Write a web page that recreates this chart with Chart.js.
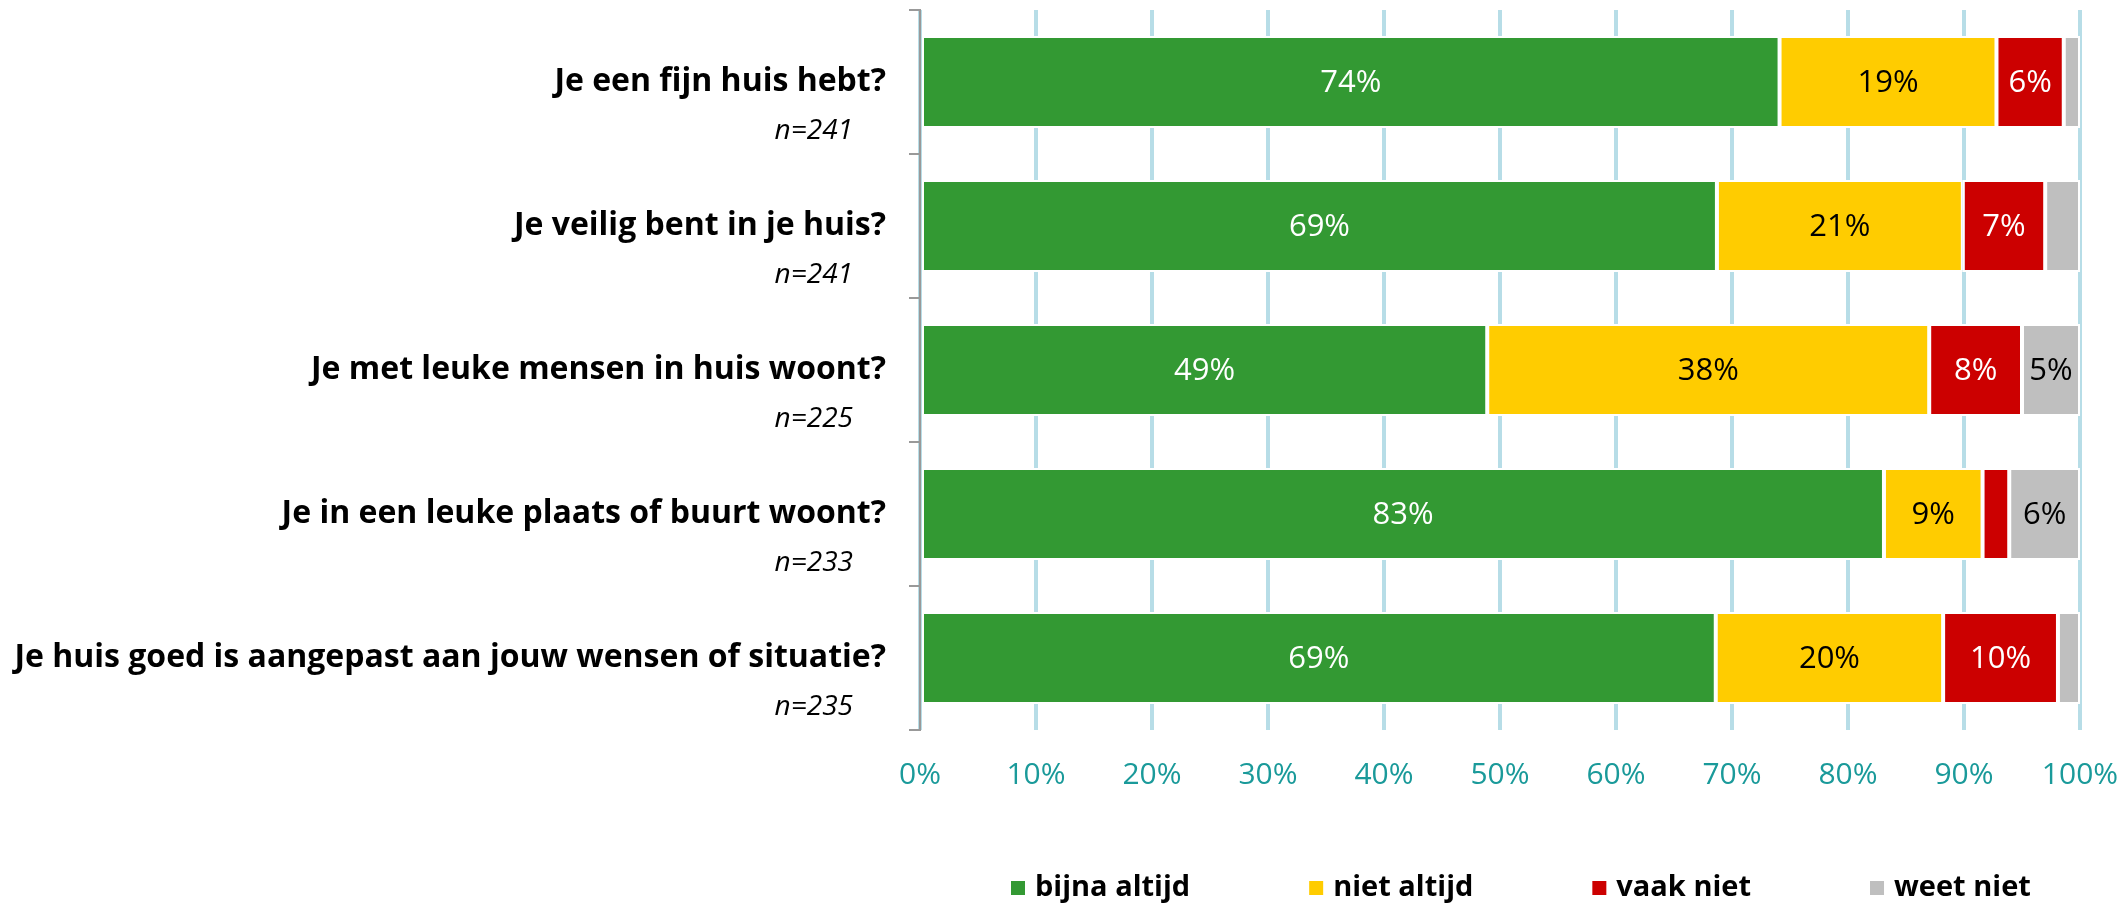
<!DOCTYPE html>
<html>
<head>
<meta charset="utf-8">
<script src="https://cdn.jsdelivr.net/npm/chart.js@4"></script>
<style>
  html, body { margin: 0; padding: 0; background: #fff; }
  #wrap { width: 2127px; height: 907px; }
</style>
</head>
<body>
<div id="wrap"><canvas id="chart" width="2127" height="907"></canvas></div>
<script>
const questions = [
    'Je een fijn huis hebt?',
    'Je veilig bent in je huis?',
    'Je met leuke mensen in huis woont?',
    'Je in een leuke plaats of buurt woont?',
    'Je huis goed is aangepast aan jouw wensen of situatie?'
];
const sampleSizes = ['n=241', 'n=241', 'n=225', 'n=233', 'n=235'];

const bijnaAltijd = [74.1, 68.7, 48.9, 83.1, 68.6];
const nietAltijd = [18.7, 21.2, 38.1, 8.5, 19.6];
const vaakNiet = [5.8, 7.1, 8.0, 2.3, 9.9];
const weetNiet = [1.4, 3.0, 5.0, 6.1, 1.9];

const xTickLabels = ['0%', '10%', '20%', '30%', '40%', '50%', '60%', '70%', '80%', '90%', '100%'];

const FONT = "'Open Sans', 'Noto Sans', sans-serif";

// question labels + n= under them, drawn next to the y axis
const questionLabels = {
    id: 'questionLabels',
    afterDraw(c) {
        const ctx = c.ctx;
        const y = c.scales.y;
        ctx.save();
        ctx.textAlign = 'right';
        ctx.textBaseline = 'middle';
        ctx.fillStyle = '#000';
        questions.forEach((q, i) => {
            const py = y.getPixelForValue(i);
            ctx.font = 'bold 32px ' + FONT;
            ctx.fillText(q, 886, py);
            ctx.font = 'italic 28px ' + FONT;
            ctx.fillText(sampleSizes[i], 853, py + 49);
        });
        ctx.restore();
    }
};

// percentages inside the bars
const barValues = {
    id: 'barValues',
    afterDatasetsDraw(c) {
        const ctx = c.ctx;
        ctx.save();
        ctx.font = '31px ' + FONT;
        ctx.textAlign = 'center';
        ctx.textBaseline = 'middle';
        c.data.datasets.forEach((ds, di) => {
            c.getDatasetMeta(di).data.forEach((bar, i) => {
                const v = ds.data[i];
                if (v < 4) return;
                ctx.fillStyle = ds.textColor;
                ctx.fillText(Math.round(v) + '%', (bar.x + bar.base) / 2, bar.y + 1);
            });
        });
        ctx.restore();
    }
};

// legend at the bottom
const bottomLegend = {
    id: 'bottomLegend',
    afterDraw(c) {
        const ctx = c.ctx;
        const dsets = c.data.datasets;
        ctx.save();
        ctx.font = 'bold 29px ' + FONT;
        const box = 14, gapText = 10, gapItem = 119;
        let x = c.chartArea.left + 91;
        const yBase = 896;
        dsets.forEach(d => {
            ctx.fillStyle = d.backgroundColor;
            ctx.fillRect(x, yBase - 15, box, box);
            ctx.fillStyle = '#000';
            ctx.textAlign = 'left';
            ctx.textBaseline = 'alphabetic';
            ctx.fillText(d.label, x + box + gapText, yBase);
            x += box + gapText + ctx.measureText(d.label).width + gapItem;
        });
        ctx.restore();
    }
};

const barStyle = {
    borderColor: '#ffffff',
    borderWidth: 2,
    borderSkipped: false,
    barPercentage: 0.64,
    categoryPercentage: 1.0
};

new Chart(document.querySelector('#chart').getContext('2d'), {
    type: 'bar',
    data: {
        labels: questions,
        datasets: [
            { label: 'bijna altijd', data: bijnaAltijd, backgroundColor: '#339933', textColor: '#ffffff', ...barStyle },
            { label: 'niet altijd', data: nietAltijd, backgroundColor: '#ffcc00', textColor: '#000000', ...barStyle },
            { label: 'vaak niet', data: vaakNiet, backgroundColor: '#cc0000', textColor: '#ffffff', ...barStyle },
            { label: 'weet niet', data: weetNiet, backgroundColor: '#bfbfbf', textColor: '#000000', ...barStyle }
        ]
    },
    options: {
        indexAxis: 'y',
        responsive: false,
        animation: false,
        layout: { padding: { top: 10, right: 47, left: 0, bottom: 0 } },
        plugins: {
            legend: { display: false },
            tooltip: { enabled: false }
        },
        scales: {
            x: {
                stacked: true,
                min: 0,
                max: 100,
                afterFit: s => { s.height = 177; s.paddingRight = 0; s.paddingLeft = 0; },
                border: { display: false },
                grid: { color: '#b7dde7', lineWidth: 4, drawTicks: false },
                ticks: {
                    stepSize: 10,
                    padding: 27,
                    color: '#1a9a9a',
                    font: { family: FONT, size: 30 },
                    callback: (v, i) => xTickLabels[i]
                }
            },
            y: {
                stacked: true,
                afterFit: s => { s.width = 920; },
                border: { display: true, color: '#999999', width: 2 },
                grid: { drawOnChartArea: false, tickLength: 11, color: '#999999', lineWidth: 2 },
                ticks: { display: false }
            }
        }
    },
    plugins: [questionLabels, barValues, bottomLegend]
});
</script>
</body>
</html>
